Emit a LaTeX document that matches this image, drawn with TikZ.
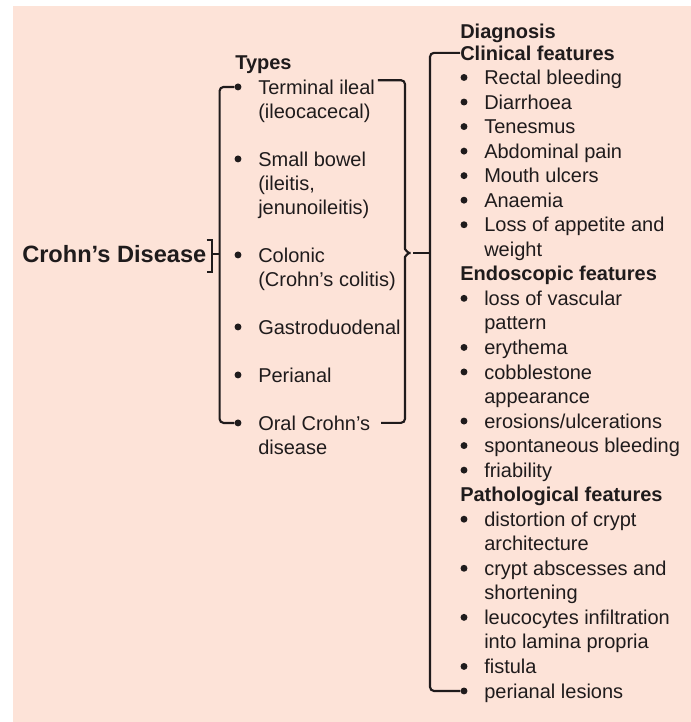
\documentclass[tikz,border=0pt]{standalone}
\usepackage{fontspec}
\setmainfont{Liberation Sans}
\usepackage{xcolor}
\definecolor{ink}{HTML}{1F1B1C}
\definecolor{peach}{HTML}{FDE3D8}

\begin{document}
\begin{tikzpicture}[x=0.75pt,y=-0.75pt,
  every node/.style={inner sep=0,text=ink,font=\fontsize{15}{18}\selectfont},
  bul/.style={circle,fill=ink,minimum size=5.2pt},
  rowh/.style={xshift=-18pt,font=\fontsize{15}{18}\selectfont\bfseries},
  rowb/.style={append after command={node[bul] (\tikzlastnode-dot) at ([xshift=-15pt,yshift=5.3pt]\tikzlastnode.base west) {}}},
  rowc/.style={},
  ln/.style={draw=ink,line width=1.6pt,rounded corners=3pt}]
\useasboundingbox (0,0) rectangle (691,722);
\fill[peach] (13,6) rectangle (691,722);

\node[anchor=base west,font=\fontsize{17.7}{20}\selectfont\bfseries] (crohn) at (22,262) {Crohn's Disease};
\node[anchor=base west,font=\fontsize{15}{18}\selectfont\bfseries] (typ) at (235,69) {Types};
\node[anchor=base west,font=\fontsize{15}{18}\selectfont\bfseries] (dgn) at (460,38) {Diagnosis};

% types, one node per printed line
\foreach \n/\t/\lab in {%
  0/b/Terminal ileal, 1/c/{(ileocacecal)},
  3/b/Small bowel, 4/c/{(ileitis,}, 5/c/{jenunoileitis)},
  7/b/Colonic, 8/c/{(Crohn's colitis)},
  10/b/Gastroduodenal,
  12/b/Perianal,
  14/b/Oral Crohn's, 15/c/disease}{
  \node[anchor=base west,row\t] (t\n) at (258,{94+24*\n}) {\lab};
}

% diagnosis
\foreach \n/\t/\lab in {%
  0/h/Clinical features,
  1/b/Rectal bleeding, 2/b/Diarrhoea, 3/b/Tenesmus, 4/b/Abdominal pain,
  5/b/Mouth ulcers, 6/b/Anaemia, 7/b/Loss of appetite and, 8/c/weight,
  9/h/Endoscopic features,
  10/b/loss of vascular, 11/c/pattern, 12/b/erythema, 13/b/cobblestone,
  14/c/appearance, 15/b/{erosions/ulcerations}, 16/b/spontaneous bleeding,
  17/b/friability,
  18/h/Pathological features,
  19/b/distortion of crypt, 20/c/architecture, 21/b/crypt abscesses and,
  22/c/shortening, 23/b/leucocytes infiltration, 24/c/into lamina propria,
  25/b/fistula, 26/b/perianal lesions}{
  \node[anchor=base west,row\t] (d\n) at (484,{60+24.54*\n}) {\lab};
}

\coordinate (tsp) at ([xshift=9.75pt]crohn.east);
\coordinate (tbr) at (413,253);
\coordinate (dsp) at (430,253);

% brackets
\draw[ln,rounded corners=0pt] ([yshift=10pt]crohn.east) -- ++(5,0) |- ([yshift=-14pt]crohn.east);
\draw[ln] ([xshift=3.75pt]crohn.east) -- (tsp);
\draw[ln] (t0-dot) -| (tsp) |- (t14-dot);
\draw[ln] ([xshift=2pt,yshift=5pt]t0.east) -| (405,245) to[out=-90,in=180] (tbr)
  to[out=180,in=90] (405,261) |- ([xshift=8pt]t14.east);
\draw[ln] (tbr) -- (dsp);
\draw[ln] (d0.west) -| (dsp) |- (d26-dot);
\end{tikzpicture}
\end{document}
